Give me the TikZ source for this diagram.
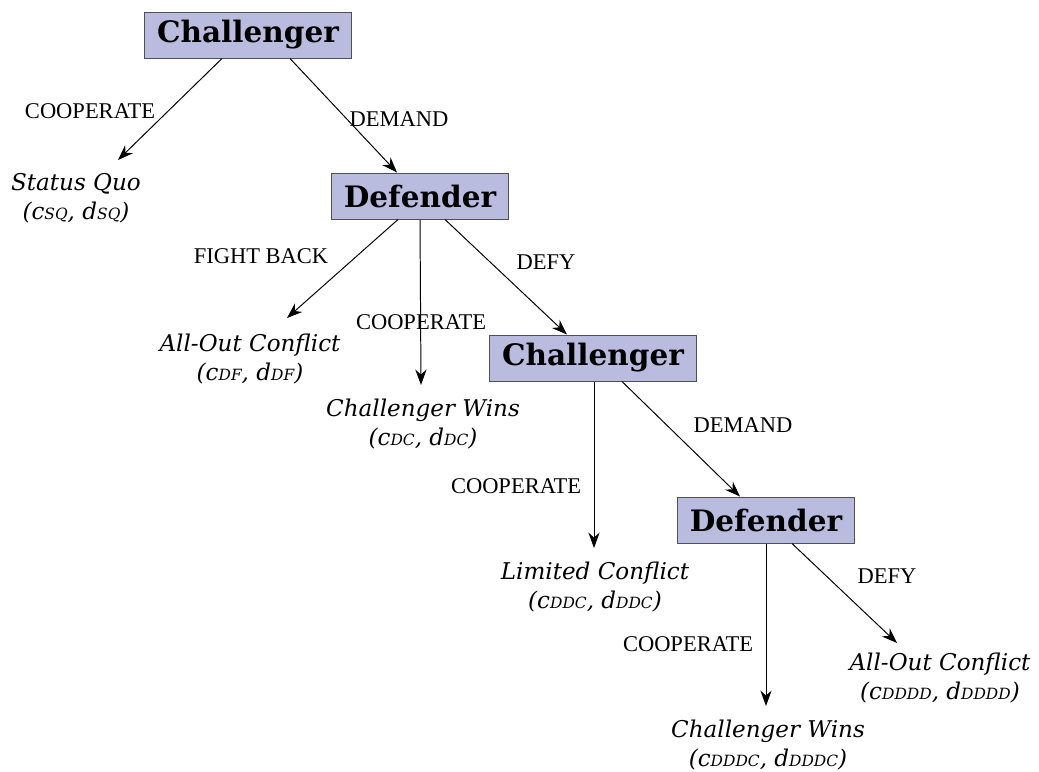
\documentclass[tikz,border=0pt]{standalone}
\usepackage{fontspec}
\usepackage{tikz}
\usetikzlibrary{arrows.meta,calc}
\setmainfont{DejaVu Serif}
\newfontfamily\lblfont{Liberation Serif}
\definecolor{boxfill}{RGB}{185,188,223}
\definecolor{boxline}{RGB}{80,80,80}
\newcommand{\sbs}[1]{{\fontsize{11pt}{11pt}\selectfont #1}}

\tikzset{
	player/.style={draw=boxline, fill=boxfill, line width=0.7pt, minimum height=1.15cm, inner xsep=9pt,
		font=\fontsize{21pt}{24pt}\selectfont\bfseries},
	outcome/.style={align=center, font=\fontsize{16.4pt}{20.6pt}\selectfont\itshape},
	move/.style={font=\fontsize{16pt}{18pt}\selectfont\lblfont},
	arr/.style={-{Stealth[length=11pt,width=8pt]}, line width=0.7pt}
}

\begin{document}
\begin{tikzpicture}[x=0.025cm, y=-0.025cm]
		\useasboundingbox (0,0) rectangle (1039,771);
		
		% players
		\node[player] (c1) at (248,35) {Challenger};
		\node[player] (d1) at (420,196) {Defender};
		\node[player] (c2) at (593,358) {Challenger};
		\node[player] (d2) at (766,520) {Defender};
		
		% outcomes
		\node[outcome] (sq) at (76,198) {Status Quo\\(c\sbs{SQ}, d\sbs{SQ})};
		\node[outcome] (aoc1) at (250,359) {All-Out Conflict\\(c\sbs{DF}, d\sbs{DF})};
		\node[outcome] (cw1) at (423,424) {Challenger Wins\\(c\sbs{DC}, d\sbs{DC})};
		\node[outcome] (lc) at (595,587) {Limited Conflict\\(c\sbs{DDC}, d\sbs{DDC})};
		\node[outcome] (aoc2) at (940,678) {All-Out Conflict\\(c\sbs{DDDD}, d\sbs{DDDD})};
		\node[outcome] (cw2) at (768,745) {Challenger Wins\\(c\sbs{DDDC}, d\sbs{DDDC})};
		
		% moves
		\draw[arr] ($(c1.south)+(-26,0)$) -- ($(sq)+(42,-38)$);
		\draw[arr] ($(c1.south)+(42,0)$) -- ($(d1.north)+(-23,0)$);
		\draw[arr] ($(d1.south)+(-22,0)$) -- ($(aoc1)+(37,-41)$);
		\draw[arr] (d1.south) -- ($(cw1)+(-2,-39)$);
		\draw[arr] ($(d1.south)+(25,0)$) -- ($(c2.north)+(-26,0)$);
		\draw[arr] ($(c2.south)+(1,0)$) -- ($(lc)+(-1,-39)$);
		\draw[arr] ($(c2.south)+(29,0)$) -- ($(d2.north)+(-26,0)$);
		\draw[arr] (d2.south) -- ($(cw2)+(-2,-39)$);
		\draw[arr] ($(d2.south)+(26,0)$) -- ($(aoc2)+(-43,-35)$);
		
		\node[move] (m1) at (90,111) {COOPERATE};
		\node[move] (m2) at (399,119) {DEMAND};
		\node[move] (m3) at (261,256) {FIGHT BACK};
		\node[move] (m4) at (421,322) {COOPERATE};
		\node[move] (m5) at (546,262) {DEFY};
		\node[move] (m6) at (516,486) {COOPERATE};
		\node[move] (m7) at (743,425) {DEMAND};
		\node[move] (m8) at (688,644) {COOPERATE};
		\node[move] (m9) at (887,576) {DEFY};
	\end{tikzpicture}
\end{document}
